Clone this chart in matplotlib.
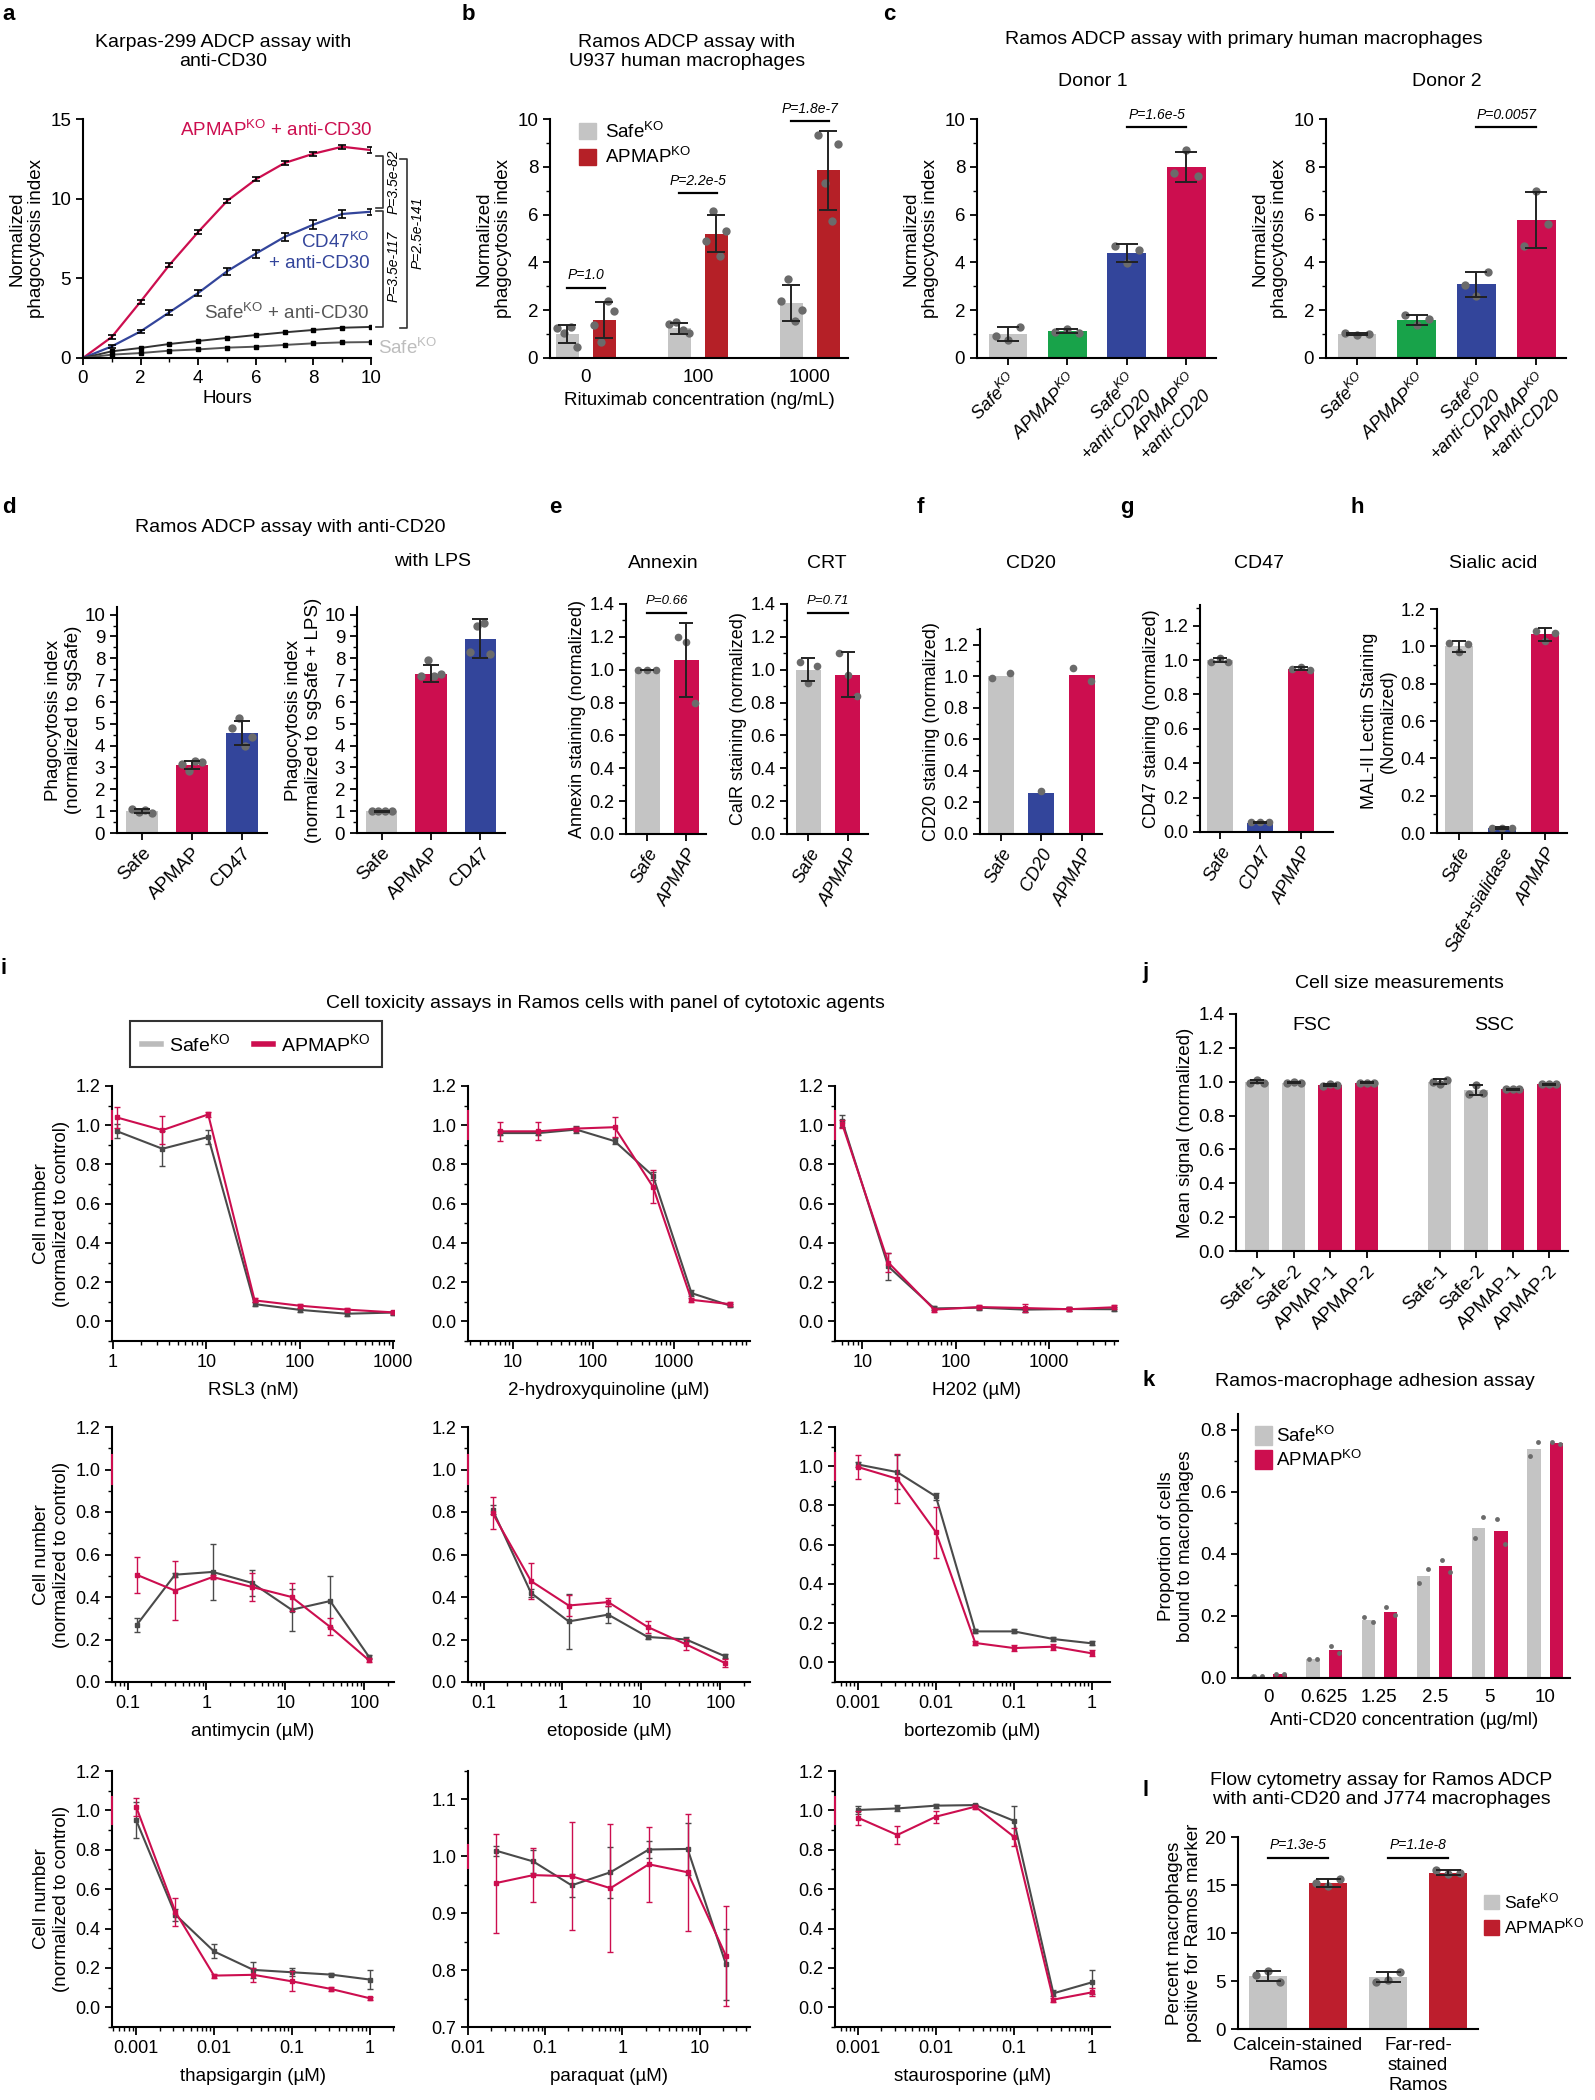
import numpy as np
import matplotlib
matplotlib.use("Agg")
import matplotlib.pyplot as plt
from matplotlib.ticker import MultipleLocator, LogLocator, NullFormatter
from matplotlib.lines import Line2D
from matplotlib.patches import Patch

plt.rcParams["font.family"] = ["Liberation Sans", "DejaVu Sans"]
plt.rcParams["mathtext.default"] = "regular"
plt.rcParams["axes.linewidth"] = 1.5

GREY = "#C4C4C4"
CRIMSON = "#CC0E4F"
DARKRED = "#B52027"
BLUE = "#33459B"
GREEN = "#18A34A"
DOT = "#6B6B6B"
SAFE_LINE = "#4A4A4A"
TITLE_FS = 14

# ---------------- data ----------------
# a
hours = list(range(11))
a_apmap = [0, 1.32, 3.54, 5.84, 7.91, 9.85, 11.21, 12.24, 12.82, 13.26, 13.05]
a_apmap_err = [0, 0.1, 0.12, 0.12, 0.15, 0.15, 0.12, 0.12, 0.12, 0.13, 0.2]
a_cd47 = [0, 0.73, 1.67, 2.87, 4.08, 5.44, 6.55, 7.6, 8.37, 9.04, 9.18]
a_cd47_err = [0, 0.08, 0.1, 0.15, 0.2, 0.22, 0.25, 0.25, 0.3, 0.25, 0.2]
a_safe_cd30 = [0, 0.42, 0.63, 0.88, 1.07, 1.26, 1.44, 1.61, 1.76, 1.9, 1.95]
a_safe = [0, 0.21, 0.31, 0.46, 0.54, 0.65, 0.71, 0.82, 0.92, 0.98, 1.0]

# b
b_conc = ["0", "100", "1000"]
b_safe = [1.0, 1.25, 2.3]
b_safe_err = [0.38, 0.23, 0.75]
b_apmap = [1.6, 5.2, 7.85]
b_apmap_err = [0.75, 0.78, 1.65]
b_safe_dots = [[1.25, 1.05, 1.3, 0.45], [1.44, 1.49, 1.19, 1.05], [2.37, 3.3, 1.53, 2.02]]
b_apmap_dots = [[1.4, 0.65, 2.4, 1.98], [4.88, 6.14, 4.28, 5.33], [9.34, 7.32, 5.72, 8.97]]
b_p = ["P=1.0", "P=2.2e-5", "P=1.8e-7"]
b_p_y = [2.93, 6.9, 9.9]

# c
c_labels = ["Safe$^{KO}$", "APMAP$^{KO}$", "Safe$^{KO}$\n+anti-CD20", "APMAP$^{KO}$\n+anti-CD20"]
c1_vals = [1.0, 1.12, 4.38, 8.0]
c1_err = [0.28, 0.08, 0.37, 0.62]
c1_dots = [[0.9, 0.75, 1.3], [1.1, 1.2, 1.05], [4.7, 3.98, 4.5], [7.75, 8.7, 7.6]]
c2_vals = [1.0, 1.6, 3.08, 5.78]
c2_err = [0.05, 0.2, 0.53, 1.17]
c2_dots = [[1.03, 0.97, 1.0], [1.78, 1.38, 1.65], [3.05, 2.6, 3.6], [4.7, 7.0, 5.6]]

# d
d_labels = ["Safe", "APMAP", "CD47"]
d1_vals = [1.0, 3.12, 4.6]
d1_err = [0.1, 0.18, 0.55]
d1_dots = [[1.1, 0.95, 1.05, 0.9], [3.15, 2.85, 3.3, 3.25], [4.8, 5.25, 4.0, 4.4]]
d2_vals = [1.0, 7.3, 8.9]
d2_err = [0.02, 0.4, 0.9]
d2_dots = [[1.0, 1.0, 1.0, 1.0], [7.2, 7.9, 7.2, 7.3], [8.3, 9.5, 9.6, 8.2]]

# e-h
e_labels = ["Safe", "APMAP"]
ann_vals = [1.0, 1.06]
ann_err = [0.0, 0.225]
ann_dots = [[1.0, 1.0, 1.0], [1.2, 1.17, 0.8]]
crt_vals = [1.0, 0.97]
crt_err = [0.07, 0.135]
crt_dots = [[1.05, 0.92, 1.02], [1.1, 0.97, 0.84]]
f_labels = ["Safe", "CD20", "APMAP"]
cd20_vals = [1.0, 0.26, 1.01]
cd20_dots = [[0.99, 1.02], [0.27], [1.05, 0.97]]
g_labels = ["Safe", "CD47", "APMAP"]
cd47_vals = [1.0, 0.055, 0.95]
cd47_err = [0.01, 0.005, 0.01]
cd47_dots = [[0.99, 1.01, 0.99], [0.06, 0.06, 0.06], [0.95, 0.96, 0.94]]
h_labels = ["Safe", "Safe+sialidase", "APMAP"]
sia_vals = [1.0, 0.025, 1.065]
sia_err = [0.03, 0.005, 0.035]
sia_dots = [[1.02, 0.97, 1.01], [0.025, 0.025, 0.025], [1.08, 1.03, 1.07]]

# i
rsl3_conc = [1.1, 3.4, 10.5, 33, 100, 320, 1000]
rsl3_safe = [0.97, 0.88, 0.94, 0.088, 0.059, 0.039, 0.045]
rsl3_safe_err = [0.035, 0.09, 0.035, 0.01, 0.01, 0.01, 0.01]
rsl3_apmap = [1.04, 0.975, 1.055, 0.107, 0.08, 0.06, 0.046]
rsl3_apmap_err = [0.055, 0.07, 0.015, 0.01, 0.01, 0.008, 0.008]

hq_conc = [6.9, 21, 62, 185, 555, 1670, 5000]
hq_safe = [0.96, 0.96, 0.978, 0.919, 0.742, 0.144, 0.081]
hq_safe_err = [0.01, 0.01, 0.02, 0.015, 0.02, 0.015, 0.01]
hq_apmap = [0.969, 0.969, 0.983, 0.99, 0.686, 0.11, 0.088]
hq_apmap_err = [0.05, 0.045, 0.01, 0.05, 0.085, 0.01, 0.01]

h2o2_conc = [6.1, 19, 59, 180, 550, 1660, 5000]
h2o2_safe = [1.02, 0.28, 0.066, 0.07, 0.06, 0.063, 0.062]
h2o2_safe_err = [0.03, 0.07, 0.01, 0.01, 0.01, 0.01, 0.01]
h2o2_apmap = [1.005, 0.3, 0.06, 0.073, 0.068, 0.062, 0.072]
h2o2_apmap_err = [0.02, 0.05, 0.01, 0.01, 0.02, 0.01, 0.01]

anti_conc = [0.13, 0.4, 1.2, 3.8, 12, 37, 115]
anti_safe = [0.267, 0.505, 0.518, 0.466, 0.34, 0.381, 0.118]
anti_safe_err = [0.033, 0.01, 0.13, 0.06, 0.1, 0.12, 0.01]
anti_apmap = [0.505, 0.43, 0.494, 0.447, 0.4, 0.259, 0.102]
anti_apmap_err = [0.085, 0.14, 0.01, 0.065, 0.065, 0.04, 0.01]

etop_conc = [0.13, 0.4, 1.2, 3.8, 12, 37, 115]
etop_safe = [0.811, 0.419, 0.285, 0.317, 0.212, 0.2, 0.121]
etop_safe_err = [0.02, 0.02, 0.13, 0.04, 0.01, 0.01, 0.01]
etop_apmap = [0.795, 0.475, 0.36, 0.376, 0.259, 0.177, 0.089]
etop_apmap_err = [0.075, 0.085, 0.05, 0.02, 0.03, 0.025, 0.02]

bort_conc = [0.001, 0.0032, 0.01, 0.032, 0.1, 0.32, 1.0]
bort_safe = [1.009, 0.97, 0.846, 0.158, 0.158, 0.119, 0.097]
bort_safe_err = [0.015, 0.085, 0.02, 0.01, 0.01, 0.01, 0.01]
bort_apmap = [0.996, 0.936, 0.664, 0.099, 0.073, 0.08, 0.046]
bort_apmap_err = [0.06, 0.125, 0.13, 0.01, 0.015, 0.015, 0.015]

thap_conc = [0.001, 0.0032, 0.01, 0.032, 0.1, 0.32, 1.0]
thap_safe = [0.951, 0.47, 0.284, 0.19, 0.178, 0.166, 0.141]
thap_safe_err = [0.09, 0.03, 0.035, 0.04, 0.02, 0.008, 0.05]
thap_apmap = [1.019, 0.484, 0.161, 0.165, 0.132, 0.093, 0.046]
thap_apmap_err = [0.045, 0.07, 0.01, 0.035, 0.05, 0.01, 0.008]

para_conc = [0.023, 0.07, 0.22, 0.7, 2.2, 7, 22]
para_safe = [1.01, 0.991, 0.949, 0.972, 1.012, 1.013, 0.81]
para_safe_err = [0.009, 0.02, 0.02, 0.045, 0.015, 0.045, 0.063]
para_apmap = [0.953, 0.967, 0.965, 0.944, 0.986, 0.972, 0.825]
para_apmap_err = [0.087, 0.048, 0.095, 0.113, 0.066, 0.103, 0.088]

stau_conc = [0.001, 0.0032, 0.01, 0.032, 0.1, 0.32, 1.0]
stau_safe = [1.002, 1.01, 1.024, 1.027, 0.947, 0.071, 0.127]
stau_safe_err = [0.02, 0.015, 0.01, 0.005, 0.075, 0.015, 0.06]
stau_apmap = [0.963, 0.875, 0.968, 1.019, 0.866, 0.039, 0.076]
stau_apmap_err = [0.035, 0.045, 0.03, 0.01, 0.045, 0.01, 0.02]

# j
j_labels = ["Safe-1", "Safe-2", "APMAP-1", "APMAP-2"]
fsc_vals = [1.0, 0.995, 0.98, 0.995]
fsc_err = [0.01, 0.005, 0.005, 0.003]
fsc_dots = [[0.99, 1.01, 0.995], [0.99, 1.0, 0.99], [0.975, 0.985, 0.98], [0.995, 0.995, 0.995]]
ssc_vals = [1.0, 0.95, 0.955, 0.985]
ssc_err = [0.015, 0.03, 0.003, 0.003]
ssc_dots = [[1.0, 0.985, 1.01], [0.93, 0.98, 0.935], [0.955, 0.955, 0.955], [0.985, 0.985, 0.985]]

# k
k_conc = ["0", "0.625", "1.25", "2.5", "5", "10"]
k_safe = [0.005, 0.062, 0.187, 0.329, 0.484, 0.737]
k_apmap = [0.014, 0.09, 0.214, 0.361, 0.472, 0.757]
k_safe_dots = [[0.008, 0.008], [0.061, 0.061], [0.195, 0.18], [0.305, 0.352], [0.45, 0.518], [0.714, 0.759]]
k_apmap_dots = [[0.014, 0.014], [0.103, 0.08], [0.23, 0.203], [0.38, 0.342], [0.513, 0.432], [0.76, 0.755]]

# l
l_labels = ["Calcein-stained\nRamos", "Far-red-\nstained\nRamos"]
l_safe = [5.5, 5.4]
l_safe_err = [0.5, 0.5]
l_apmap = [15.2, 16.3]
l_apmap_err = [0.45, 0.3]
l_safe_dots = [[5.6, 6.0, 4.85], [4.9, 5.1, 5.95]]
l_apmap_dots = [[15.2, 14.9, 15.6], [16.6, 16.1, 16.2]]
l_p = ["P=1.3e-5", "P=1.1e-8"]

# ---------------- figure ----------------
W, H = 1595, 2100
fig = plt.figure(figsize=(W / 100, H / 100), dpi=100)


def add_ax(l, t, r, b, fs=13.5):
    ax = fig.add_axes([l / W, 1 - b / H, (r - l) / W, (b - t) / H])
    ax.spines[["top", "right"]].set_visible(False)
    ax.tick_params(direction="out", width=1.3, length=5, labelsize=fs)
    ax.tick_params(which="minor", length=3, width=1.0)
    return ax


def ftext(x, y, s, **kw):
    fig.text(x / W, 1 - y / H, s, **kw)


def letter(x, y, s):
    ftext(x, y, s, fontsize=16, fontweight="bold", va="top", ha="left")


def bar_dots(ax, pos, vals, colors, width, errs=None, dots=None, cap=6, spread=0.2, ms=6):
    ax.bar(pos, vals, width=width, color=colors, zorder=1)
    if dots is not None:
        for p, ds in zip(pos, dots):
            n = len(ds)
            xs = p + (np.linspace(-spread, spread, n) if n > 1 else np.zeros(1))
            ax.plot(xs, ds, "o", color=DOT, ms=ms, zorder=2, clip_on=False, mec="none")
    if errs is not None:
        ax.errorbar(pos, vals, yerr=errs, fmt="none", ecolor="#222222",
                    elinewidth=1.4, capsize=cap, capthick=1.4, zorder=3)


def pbar(ax, x0, x1, y, s, fs=10):
    ax.plot([x0, x1], [y, y], color="k", lw=1.6, clip_on=False)
    ax.annotate(s, ((x0 + x1) / 2, y), xytext=(0, 4), textcoords="offset points",
                ha="center", va="bottom", fontsize=fs, style="italic",
                annotation_clip=False)


# ---- a ----
letter(2, 4, "a")
ftext(223, 52, "Karpas-299 ADCP assay with\nanti-CD30", ha="center", va="center", fontsize=TITLE_FS)
ax = add_ax(83, 119, 371, 358)
for ys, es, col in [(a_apmap, a_apmap_err, CRIMSON), (a_cd47, a_cd47_err, BLUE)]:
    ax.plot(hours, ys, color=col, lw=1.6, zorder=2)
    ax.errorbar(hours[1:], ys[1:], yerr=es[1:], fmt="none", ecolor="k",
                elinewidth=1.2, capsize=3, capthick=1.2, zorder=3)
for ys, col in [(a_safe_cd30, "#333333"), (a_safe, "#555555")]:
    ax.plot(hours, ys, color=col, lw=1.4, zorder=2)
    ax.plot(hours[1:], ys[1:], "s", color="k", ms=3, zorder=3)
ax.set_xlim(0, 10)
ax.set_ylim(0, 15)
ax.xaxis.set_major_locator(MultipleLocator(2))
ax.xaxis.set_minor_locator(MultipleLocator(1))
ax.yaxis.set_major_locator(MultipleLocator(5))
ax.set_xlabel("Hours", fontsize=13.5, labelpad=2)
ax.set_ylabel("Normalized\nphagocytosis index", fontsize=13.5, labelpad=4)
ax.text(10.05, 14.3, "APMAP$^{KO}$ + anti-CD30", color=CRIMSON, ha="right", va="center", fontsize=13.5)
ax.text(9.95, 6.65, "CD47$^{KO}$\n+ anti-CD30", color=BLUE, ha="right", va="center",
        fontsize=13.5, multialignment="right")
ax.text(9.95, 2.8, "Safe$^{KO}$ + anti-CD30", color="#555555", ha="right", va="center", fontsize=13.5)
tr = ax.get_yaxis_transform()
ax.text(1.024, 0.63, "Safe$^{KO}$", transform=tr, color="#BDBDBD", ha="left", va="center", fontsize=13.5)


def bracket(xa, y0, y1, label, xt, yt):
    ax.plot([xa - 0.025, xa, xa, xa - 0.025], [y0, y0, y1, y1], transform=tr,
            color="#333333", lw=1.2, clip_on=False)
    ax.text(xt, yt, label, transform=tr, rotation=90, ha="center", va="center",
            fontsize=10, style="italic")


bracket(1.042, 12.7, 9.4, "P=3.5e-82", 1.078, 11.05)
bracket(1.042, 9.2, 1.95, "P=3.5e-117", 1.078, 5.75)
bracket(1.125, 12.5, 1.9, "P=2.5e-141", 1.163, 7.85)

# ---- b ----
letter(462, 4, "b")
ftext(687, 52, "Ramos ADCP assay with\nU937 human macrophages", ha="center", va="center", fontsize=TITLE_FS)
ax = add_ax(550, 119, 848, 358)
pos = np.arange(3)
bar_dots(ax, pos - 0.165, b_safe, GREY, 0.21, b_safe_err, b_safe_dots, cap=6.5, spread=0.09)
bar_dots(ax, pos + 0.165, b_apmap, DARKRED, 0.21, b_apmap_err, b_apmap_dots, cap=6.5, spread=0.09)
for i in range(3):
    pbar(ax, i - 0.17, i + 0.17, b_p_y[i], b_p[i])
ax.set_xlim(-0.32, 2.34)
ax.set_ylim(0, 10)
ax.set_xticks(pos, b_conc)
ax.tick_params(axis="x", length=0, pad=8)
ax.yaxis.set_major_locator(MultipleLocator(2))
ax.yaxis.set_minor_locator(MultipleLocator(1))
ax.set_xlabel("Rituximab concentration (ng/mL)", fontsize=13.5, labelpad=4)
ax.set_ylabel("Normalized\nphagocytosis index", fontsize=13.5)
ax.legend(handles=[Patch(color=GREY, label="Safe$^{KO}$"), Patch(color=DARKRED, label="APMAP$^{KO}$")],
          loc="upper left", bbox_to_anchor=(0.04, 1.06), frameon=False, fontsize=13.5,
          handlelength=0.9, handleheight=0.9, handletextpad=0.5, labelspacing=0.3)

# ---- c ----
letter(883, 4, "c")
ftext(1244, 40, "Ramos ADCP assay with primary human macrophages", ha="center", va="center", fontsize=TITLE_FS)
ftext(1093, 82, "Donor 1", ha="center", va="center", fontsize=TITLE_FS)
ftext(1447, 82, "Donor 2", ha="center", va="center", fontsize=TITLE_FS)
c_cols = [GREY, GREEN, BLUE, CRIMSON]
for (l, r, vals, errs, dots, pt) in [(977, 1216, c1_vals, c1_err, c1_dots, "P=1.6e-5"),
                                     (1326, 1566, c2_vals, c2_err, c2_dots, "P=0.0057")]:
    ax = add_ax(l, 119, r, 358)
    pos = np.arange(4)
    bar_dots(ax, pos, vals, c_cols, 0.65, errs, dots, cap=8, spread=0.2)
    pbar(ax, 2, 3, 9.65, pt)
    ax.set_xlim(-0.52, 3.5)
    ax.set_ylim(0, 10)
    ax.yaxis.set_major_locator(MultipleLocator(2))
    ax.yaxis.set_minor_locator(MultipleLocator(1))
    ax.set_xticks(pos)
    ax.set_xticklabels(c_labels, rotation=45, ha="right", rotation_mode="anchor",
                       style="italic", fontsize=13)
    ax.set_ylabel("Normalized\nphagocytosis index", fontsize=13.5)

# ---- d ----
letter(2, 497, "d")
ftext(290, 527, "Ramos ADCP assay with anti-CD20", ha="center", va="center", fontsize=TITLE_FS)
ftext(433, 562, "with LPS", ha="center", va="center", fontsize=TITLE_FS)
d_cols = [GREY, CRIMSON, BLUE]
for (l, r, vals, errs, dots, yl) in [(117, 267, d1_vals, d1_err, d1_dots, "Phagocytosis index\n(normalized to sgSafe)"),
                                     (357, 505, d2_vals, d2_err, d2_dots, "Phagocytosis index\n(normalized to sgSafe + LPS)")]:
    ax = add_ax(l, 607, r, 833)
    pos = np.arange(3)
    bar_dots(ax, pos, vals, d_cols, 0.63, errs, dots, cap=6, spread=0.2)
    ax.set_xlim(-0.5, 2.5)
    ax.set_ylim(0, 10.35)
    ax.yaxis.set_major_locator(MultipleLocator(1))
    ax.yaxis.set_minor_locator(MultipleLocator(0.5))
    ax.set_xticks(pos)
    ax.set_xticklabels(d_labels, rotation=45, ha="right", rotation_mode="anchor", fontsize=13.5)
    ax.set_ylabel(yl, fontsize=13.5, labelpad=2)

# ---- e-h ----
letter(549, 497, "e")
letter(917, 497, "f")
letter(1120, 497, "g")
letter(1351, 497, "h")
for x, s in [(663, "Annexin"), (827, "CRT"), (1031, "CD20"), (1259, "CD47"), (1493, "Sialic acid")]:
    ftext(x, 563, s, ha="center", va="center", fontsize=TITLE_FS)

small_panels = [
    (626, 604, 706, 834, 1.4, e_labels, ann_vals, ann_err, ann_dots, [GREY, CRIMSON],
     "Annexin staining (normalized)", "P=0.66", (-0.54, 1.51)),
    (787, 604, 868, 834, 1.4, e_labels, crt_vals, crt_err, crt_dots, [GREY, CRIMSON],
     "CalR staining (normalized)", "P=0.71", (-0.54, 1.51)),
    (980, 629, 1102, 834, 1.3, f_labels, cd20_vals, None, cd20_dots, [GREY, BLUE, CRIMSON],
     "CD20 staining (normalized)", None, (-0.51, 2.5)),
    (1200, 605, 1333, 832, 1.32, g_labels, cd47_vals, cd47_err, cd47_dots, [GREY, BLUE, CRIMSON],
     "CD47 staining (normalized)", None, (-0.48, 2.79)),
    (1437, 609, 1567, 833, 1.2, h_labels, sia_vals, sia_err, sia_dots, [GREY, BLUE, CRIMSON],
     "MAL-II Lectin Staining\n(Normalized)", None, (-0.5, 2.5)),
]
for (l, t, r, b, ytop, labels, vals, errs, dots, cols, yl, pt, xl) in small_panels:
    ax = add_ax(l, t, r, b, fs=13)
    pos = np.arange(len(vals))
    bar_dots(ax, pos, vals, cols, 0.64, errs, dots, cap=5, spread=0.22, ms=5.5)
    if pt:
        pbar(ax, 0, 1, 1.347, pt, fs=9.5)
    ax.set_xlim(*xl)
    ax.set_ylim(0, ytop)
    ax.yaxis.set_major_locator(MultipleLocator(0.2))
    ax.yaxis.set_minor_locator(MultipleLocator(0.1))
    ax.yaxis.set_major_formatter(plt.FormatStrFormatter("%.1f"))
    ax.set_xticks(pos)
    ax.set_xticklabels(labels, rotation=60, ha="right", rotation_mode="anchor",
                       style="italic", fontsize=13)
    ax.set_ylabel(yl, fontsize=13, labelpad=2)

# ---- i ----
letter(0, 958, "i")
ftext(605, 1003, "Cell toxicity assays in Ramos cells with panel of cytotoxic agents",
      ha="center", va="center", fontsize=TITLE_FS)
fig.legend(handles=[Line2D([], [], color="#BBBBBB", lw=4, label="Safe$^{KO}$"),
                    Line2D([], [], color=CRIMSON, lw=4, label="APMAP$^{KO}$")],
           loc="center", bbox_to_anchor=(256 / W, 1 - 1044 / H), ncol=2, fontsize=14,
           frameon=True, fancybox=False, edgecolor="k", handlelength=1.0,
           handletextpad=0.4, columnspacing=1.2, borderpad=0.6).get_frame().set_linewidth(1.5)

tox = [
    (112, 1086, 394, 1341, rsl3_conc, rsl3_safe, rsl3_safe_err, rsl3_apmap, rsl3_apmap_err,
     (0.98, 1025), (-0.1, 1.2), [1, 10, 100, 1000], ["1", "10", "100", "1000"], "RSL3 (nM)", True),
    (468, 1086, 750, 1341, hq_conc, hq_safe, hq_safe_err, hq_apmap, hq_apmap_err,
     (2.8, 8900), (-0.1, 1.2), [10, 100, 1000], ["10", "100", "1000"], "2-hydroxyquinoline (µM)", False),
    (835, 1086, 1118, 1341, h2o2_conc, h2o2_safe, h2o2_safe_err, h2o2_apmap, h2o2_apmap_err,
     (5.1, 5500), (-0.1, 1.2), [10, 100, 1000], ["10", "100", "1000"], "H202 (µM)", False),
    (112, 1427, 394, 1682, anti_conc, anti_safe, anti_safe_err, anti_apmap, anti_apmap_err,
     (0.0636, 238), (0, 1.2), [0.1, 1, 10, 100], ["0.1", "1", "10", "100"], "antimycin (µM)", True),
    (468, 1427, 750, 1682, etop_conc, etop_safe, etop_safe_err, etop_apmap, etop_apmap_err,
     (0.0636, 238), (0, 1.2), [0.1, 1, 10, 100], ["0.1", "1", "10", "100"], "etoposide (µM)", False),
    (835, 1427, 1110, 1682, bort_conc, bort_safe, bort_safe_err, bort_apmap, bort_apmap_err,
     (0.00051, 1.7), (-0.1, 1.2), [0.001, 0.01, 0.1, 1], ["0.001", "0.01", "0.1", "1"], "bortezomib (µM)", False),
    (112, 1771, 394, 2027, thap_conc, thap_safe, thap_safe_err, thap_apmap, thap_apmap_err,
     (0.00049, 2.05), (-0.1, 1.2), [0.001, 0.01, 0.1, 1], ["0.001", "0.01", "0.1", "1"], "thapsigargin (µM)", True),
    (468, 1771, 750, 2027, para_conc, para_safe, para_safe_err, para_apmap, para_apmap_err,
     (0.011, 45), (0.7, 1.15), [0.01, 0.1, 1, 10], ["0.01", "0.1", "1", "10"], "paraquat (µM)", False),
    (835, 1771, 1110, 2027, stau_conc, stau_safe, stau_safe_err, stau_apmap, stau_apmap_err,
     (0.00051, 1.7), (-0.1, 1.2), [0.001, 0.01, 0.1, 1], ["0.001", "0.01", "0.1", "1"], "staurosporine (µM)", False),
]
for (l, t, r, b, conc, sv, se, av, ae, xl, yl, ticks, tlabels, xlab, first) in tox:
    ax = add_ax(l, t, r, b, fs=13)
    ax.set_xscale("log")
    ax.errorbar(conc, sv, yerr=se, color=SAFE_LINE, lw=1.5, elinewidth=1.0,
                capsize=2, capthick=1.0, marker="s", ms=2.5, zorder=2)
    ax.errorbar(conc, av, yerr=ae, color=CRIMSON, lw=1.5, elinewidth=1.0,
                capsize=2, capthick=1.0, marker="s", ms=2.5, zorder=3)
    ax.set_xlim(*xl)
    ax.set_ylim(*yl)
    ax.set_xticks(ticks, tlabels)
    ax.xaxis.set_minor_locator(LogLocator(base=10, subs=np.arange(2, 10), numticks=50))
    ax.xaxis.set_minor_formatter(NullFormatter())
    ax.tick_params(axis="x", which="major", length=6)
    if yl[0] == 0.7:
        ax.set_yticks([0.7, 0.8, 0.9, 1.0, 1.1])
        ax.yaxis.set_minor_locator(MultipleLocator(0.05))
        seg = (0.98, 1.02)
    else:
        ax.set_yticks([0.0, 0.2, 0.4, 0.6, 0.8, 1.0, 1.2])
        ax.yaxis.set_minor_locator(MultipleLocator(0.1))
        seg = (0.93, 1.07)
    ax.yaxis.set_major_formatter(plt.FormatStrFormatter("%.1f"))
    ax.plot([0, 0], seg, transform=ax.get_yaxis_transform(), color=CRIMSON, lw=1.5,
            clip_on=False, zorder=4)
    ax.set_xlabel(xlab, fontsize=13.5, labelpad=8)
    if first:
        ax.set_ylabel("Cell number\n(normalized to control)", fontsize=13.5, labelpad=4)

# ---- j ----
letter(1142, 962, "j")
ftext(1399, 983, "Cell size measurements", ha="center", va="center", fontsize=TITLE_FS)
ax = add_ax(1236, 1014, 1568, 1251)
jcols = [GREY, GREY, CRIMSON, CRIMSON]
bar_dots(ax, np.arange(4), fsc_vals, jcols, 0.64, fsc_err, fsc_dots, cap=5, spread=0.19, ms=6)
bar_dots(ax, np.arange(4) + 5, ssc_vals, jcols, 0.64, ssc_err, ssc_dots, cap=5, spread=0.19, ms=6)
ax.text(1.5, 1.38, "FSC", ha="center", va="top", fontsize=14)
ax.text(6.5, 1.38, "SSC", ha="center", va="top", fontsize=14)
ax.set_xlim(-0.58, 8.52)
ax.set_ylim(0, 1.4)
ax.yaxis.set_major_locator(MultipleLocator(0.2))
ax.yaxis.set_major_formatter(plt.FormatStrFormatter("%.1f"))
ax.set_xticks(list(range(4)) + list(range(5, 9)))
ax.set_xticklabels(j_labels + j_labels, rotation=45, ha="right", rotation_mode="anchor", fontsize=13.5)
ax.set_ylabel("Mean signal (normalized)", fontsize=13.5, labelpad=3)

# ---- k ----
letter(1142, 1370, "k")
ftext(1375, 1382, "Ramos-macrophage adhesion assay", ha="center", va="center", fontsize=TITLE_FS)
ax = add_ax(1238, 1414, 1570, 1678)
pos = np.arange(6)
bar_dots(ax, pos - 0.2, k_safe, GREY, 0.24, None, k_safe_dots, spread=0.075, ms=3.5)
bar_dots(ax, pos + 0.2, k_apmap, CRIMSON, 0.24, None, k_apmap_dots, spread=0.075, ms=3.5)
ax.set_xlim(-0.56, 5.45)
ax.set_ylim(0, 0.85)
ax.yaxis.set_major_locator(MultipleLocator(0.2))
ax.yaxis.set_minor_locator(MultipleLocator(0.1))
ax.yaxis.set_major_formatter(plt.FormatStrFormatter("%.1f"))
ax.set_xticks(pos, k_conc)
ax.tick_params(axis="x", length=0, pad=8)
ax.set_xlabel("Anti-CD20 concentration (µg/ml)", fontsize=13.5, labelpad=4)
ax.set_ylabel("Proportion of cells\nbound to macrophages", fontsize=13.5)
ax.legend(handles=[Patch(color=GREY, label="Safe$^{KO}$"), Patch(color=CRIMSON, label="APMAP$^{KO}$")],
          loc="upper left", bbox_to_anchor=(0.0, 1.02), frameon=False, fontsize=13.5,
          handlelength=0.9, handleheight=1.2, handletextpad=0.2, labelspacing=0.2)

# ---- l ----
letter(1142, 1780, "l")
ftext(1381, 1790, "Flow cytometry assay for Ramos ADCP\nwith anti-CD20 and J774 macrophages",
      ha="center", va="center", fontsize=TITLE_FS)
ax = add_ax(1238, 1837, 1478, 2029)
pos = np.arange(2)
bar_dots(ax, pos - 0.25, l_safe, GREY, 0.32, l_safe_err, l_safe_dots, cap=9, spread=0.1, ms=6)
bar_dots(ax, pos + 0.25, l_apmap, "#BD1E2D", 0.32, l_apmap_err, l_apmap_dots, cap=9, spread=0.1, ms=6)
for i in range(2):
    pbar(ax, i - 0.25, i + 0.25, 17.85, l_p[i])
ax.set_xlim(-0.5, 1.5)
ax.set_ylim(0, 20)
ax.yaxis.set_major_locator(MultipleLocator(5))
ax.set_xticks(pos, l_labels)
ax.tick_params(axis="x", length=0, pad=6)
ax.set_ylabel("Percent macrophages\npositive for Ramos marker", fontsize=13.5, labelpad=2)
ax.legend(handles=[Patch(color=GREY, label="Safe$^{KO}$"), Patch(color="#BD1E2D", label="APMAP$^{KO}$")],
          loc="center left", bbox_to_anchor=(0.98, 0.6), frameon=False, fontsize=12.5,
          handlelength=0.9, handleheight=0.9, handletextpad=0.3, labelspacing=0.3,
          borderaxespad=0.2)

fig.savefig("out.png", dpi=100)
